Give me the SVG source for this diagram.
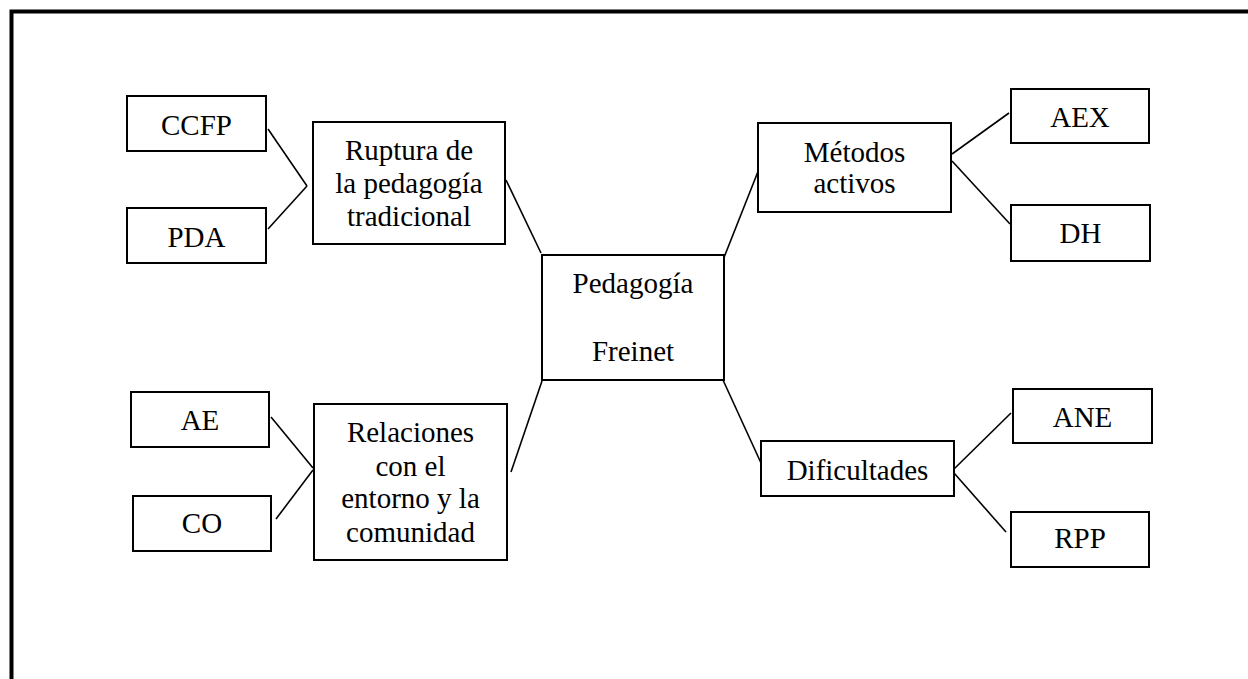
<svg xmlns="http://www.w3.org/2000/svg" width="1248" height="679" viewBox="0 0 1248 679">
<style>
.box{fill:#fff;stroke:#000;stroke-width:2}
.t{font-family:'Liberation Serif','Times New Roman',Tinos,'DejaVu Serif',serif;font-size:29px;fill:#000;text-anchor:middle}
.ln{stroke:#000;stroke-width:1.6;fill:none}
</style>
<rect width="1248" height="679" fill="#fff"/>
<g id="frame">
<path d="M11.5 679 V11.5 H1248" fill="none" stroke="#000" stroke-width="4"/>
</g>
<g id="connectors">
<line class="ln" x1="268" y1="129" x2="307" y2="186"/>
<line class="ln" x1="268" y1="229" x2="307" y2="186"/>
<line class="ln" x1="506" y1="180" x2="541" y2="253"/>
<line class="ln" x1="271" y1="417" x2="313" y2="468"/>
<line class="ln" x1="276" y1="519" x2="313" y2="470"/>
<line class="ln" x1="511" y1="472" x2="542" y2="381"/>
<line class="ln" x1="723" y1="260" x2="761" y2="164"/>
<line class="ln" x1="952" y1="154" x2="1009" y2="113"/>
<line class="ln" x1="952" y1="161" x2="1010" y2="224"/>
<line class="ln" x1="723" y1="380" x2="761" y2="463"/>
<line class="ln" x1="954" y1="469" x2="1011" y2="413"/>
<line class="ln" x1="954" y1="473" x2="1006" y2="532"/>
</g>
<g id="ccfp"><rect class="box" x="127" y="96" width="139" height="55"/><text class="t" x="196.5" y="135">CCFP</text></g>
<g id="pda"><rect class="box" x="127" y="208" width="139" height="55"/><text class="t" x="196.5" y="247">PDA</text></g>
<g id="ruptura"><rect class="box" x="313" y="122" width="192" height="122"/>
<text class="t" x="409" y="160">Ruptura de</text>
<text class="t" x="409" y="193">la pedagogía</text>
<text class="t" x="409" y="226">tradicional</text></g>
<g id="ae"><rect class="box" x="131" y="392" width="138" height="55"/><text class="t" x="200" y="430">AE</text></g>
<g id="co"><rect class="box" x="133" y="496" width="138" height="55"/><text class="t" x="202" y="533">CO</text></g>
<g id="relaciones"><rect class="box" x="314" y="404" width="193" height="156"/>
<text class="t" x="410.5" y="442">Relaciones</text>
<text class="t" x="410.5" y="476">con el</text>
<text class="t" x="410.5" y="508">entorno y la</text>
<text class="t" x="410.5" y="542">comunidad</text></g>
<g id="pedagogia"><rect class="box" x="542" y="255" width="182" height="125"/>
<text class="t" x="633" y="293">Pedagogía</text>
<text class="t" x="633" y="361">Freinet</text></g>
<g id="metodos"><rect class="box" x="758" y="123" width="193" height="89"/>
<text class="t" x="854.5" y="162">Métodos</text>
<text class="t" x="854.5" y="193">activos</text></g>
<g id="aex"><rect class="box" x="1011" y="89" width="138" height="54"/><text class="t" x="1080" y="127">AEX</text></g>
<g id="dh"><rect class="box" x="1011" y="205" width="139" height="56"/><text class="t" x="1080.5" y="243">DH</text></g>
<g id="dificultades"><rect class="box" x="761" y="441" width="193" height="55"/><text class="t" x="857.5" y="480">Dificultades</text></g>
<g id="ane"><rect class="box" x="1013" y="389" width="139" height="54"/><text class="t" x="1082.5" y="427">ANE</text></g>
<g id="rpp"><rect class="box" x="1011" y="512" width="138" height="55"/><text class="t" x="1080" y="548">RPP</text></g>
</svg>
